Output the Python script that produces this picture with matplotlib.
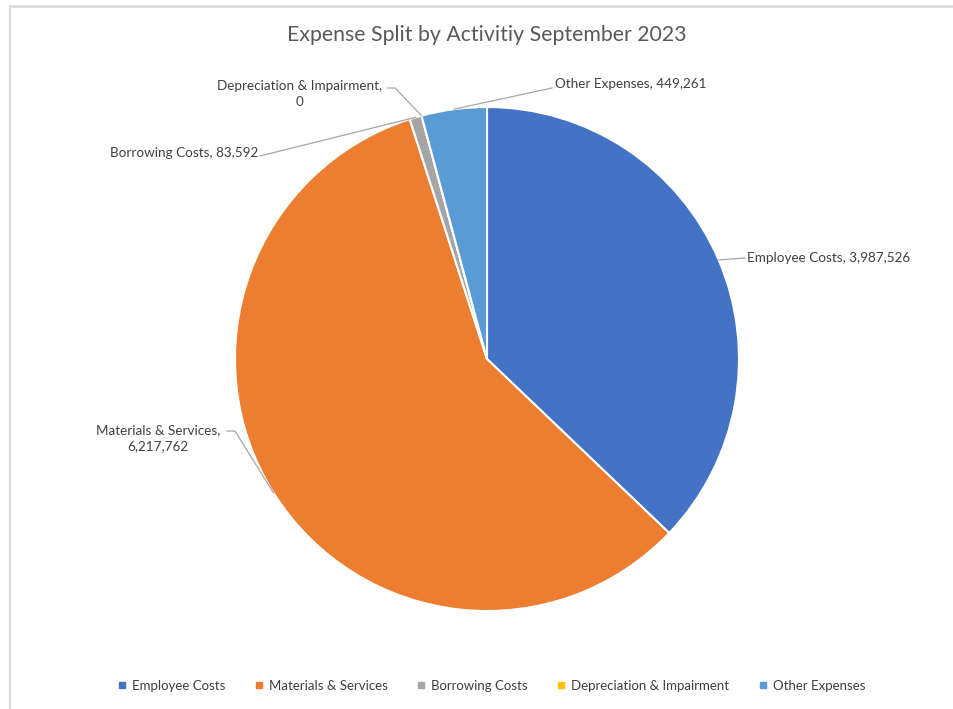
import matplotlib.pyplot as plt
from matplotlib.lines import Line2D
import numpy as np

# datos
categories = ['Employee Costs', 'Materials & Services', 'Borrowing Costs',
              'Depreciation & Impairment', 'Other Expenses']
values = [3987526, 6217762, 83592, 0, 449261]
colors = ['#4472C4', '#ED7D31', '#A5A5A5', '#FFC000', '#5B9BD5']
title = 'Expense Split by Activitiy September 2023'

W, H = 954, 709
CX, CY, R = 487, 359, 252

plt.rcParams['font.family'] = ['Lato', 'DejaVu Sans']

fig = plt.figure(figsize=(W / 100, H / 100), dpi=100)
fig.patch.set_facecolor('white')

# borde tipo hoja de Excel
fig.add_artist(Line2D([10 / W, 10 / W], [0, 1 - 8 / H], color='#D9D9D9', lw=1.5))
fig.add_artist(Line2D([10 / W, 1], [1 - 6 / H, 1 - 6 / H], color='#DDDDDD', lw=2))

ax = fig.add_axes([(CX - R) / W, (H - CY - R) / H, 2 * R / W, 2 * R / H])
wedges, _ = ax.pie(values, colors=colors, startangle=90, counterclock=False,
                   radius=1, wedgeprops=dict(edgecolor='white', linewidth=1.5))
ax.set_xlim(-1, 1)
ax.set_ylim(-1, 1)
ax.axis('off')


def px(x, y):
    return ((x - CX) / R, (CY - y) / R)


# etiquetas: (texto, posicion del texto en px, alineacion, inicio de la guia en px)
label_specs = [
    ('Employee Costs, 3,987,526', (747, 258), 'left', 'center', [(745, 258)]),
    ('Materials & Services,\n6,217,762', (158, 438), 'center', 'center', [(227, 431), (235, 431)]),
    ('Borrowing Costs, 83,592', (258, 153), 'right', 'center', [(260, 156)]),
    ('Depreciation & Impairment,\n0', (300, 94), 'center', 'center', [(388, 88), (395, 88)]),
    ('Other Expenses, 449,261', (555, 84), 'left', 'center', [(552, 88)]),
]

total = sum(values)
cum = 0
for (text, pos, ha, va, guide), v, w in zip(label_specs, values, wedges):
    mid = (cum + v / 2) / total
    cum += v
    ang = np.deg2rad(90 - 360 * mid)
    end = (np.cos(ang), np.sin(ang))
    pts = [px(*p) for p in guide] + [end]
    xs, ys = zip(*pts)
    ax.plot(xs, ys, color='#A6A6A6', lw=0.9, clip_on=False)
    tx, ty = px(*pos)
    ax.text(tx, ty, text, ha=ha, va=va, fontsize=9.7, color='#404040',
            linespacing=1.35, multialignment='center')

fig.text(CX / W, 1 - 35 / H, title, ha='center', va='center',
         fontsize=15.3, color='#595959')

handles = [Line2D([0], [0], marker='s', color='w', markerfacecolor=c,
                  markeredgecolor=c, markersize=4) for c in colors]
fig.legend(handles, categories, loc='center', bbox_to_anchor=(492 / W, 1 - 686 / H),
           ncol=5, frameon=False, fontsize=9.5, labelcolor='#404040',
           handlelength=0.5, handletextpad=0.5, columnspacing=2.3)

fig.savefig('out.png', dpi=100)
plt.close(fig)
